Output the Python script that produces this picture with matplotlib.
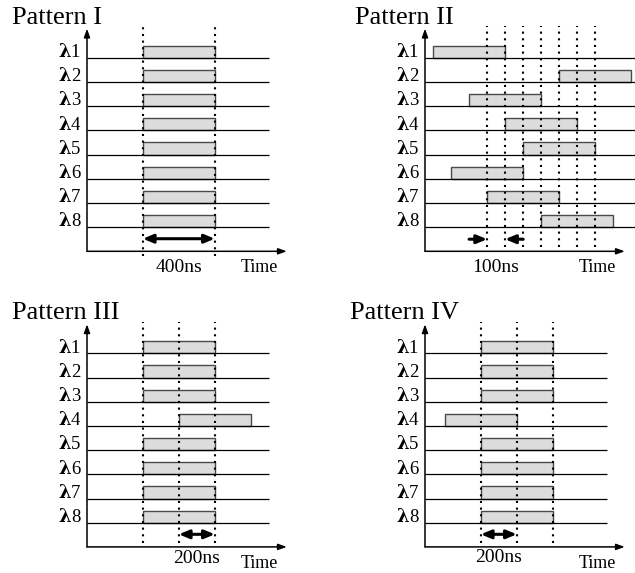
"""Timing diagrams of the four wavelength patterns."""

import matplotlib

matplotlib.use("Agg")
import matplotlib.pyplot as plt
from matplotlib.patches import Rectangle

W_PX, H_PX = 635, 573
PX_PER_NS = 0.18
PX_PER_ROW = 24.2

WAVELENGTHS = ["1", "2", "3", "4", "5", "6", "7", "8"]
PULSE_NS = 400

# pulse start times (ns, measured from the vertical axis)
pattern_i_starts = [310, 310, 310, 310, 310, 310, 310, 310]
pattern_ii_starts = [45, 745, 245, 445, 545, 145, 345, 645]
pattern_iii_starts = [310, 310, 310, 510, 310, 310, 310, 310]
pattern_iv_starts = [310, 310, 310, 110, 310, 310, 310, 310]

# dotted guide lines (ns)
pattern_i_guides = [310, 710]
pattern_ii_guides = [345, 445, 545, 645, 745, 845, 945]
pattern_iii_guides = [310, 510, 710]
pattern_iv_guides = [310, 510, 710]

# interval labels
pattern_i_span = (310, 710, "400ns")
pattern_iii_span = (510, 710, "200ns")
pattern_iv_span = (310, 510, "200ns")
pattern_ii_gap = (345, 445, "100ns")

FONT = "Liberation Serif"
FILL = "#dcdcdc"
EDGE = "#4a4a4a"


def make_axes(fig, origin_x, line1_y):
    xmin, xmax = -450, 1250
    ymin, ymax = -1.3, 10.4
    left = origin_x + PX_PER_NS * xmin
    right = origin_x + PX_PER_NS * xmax
    top = line1_y + (8 - ymax) * PX_PER_ROW
    bottom = line1_y + (8 - ymin) * PX_PER_ROW
    ax = fig.add_axes(
        [left / W_PX, 1 - bottom / H_PX, (right - left) / W_PX, (bottom - top) / H_PX]
    )
    ax.set_xlim(xmin, xmax)
    ax.set_ylim(ymin, ymax)
    ax.axis("off")
    return ax


def draw_pattern(ax, title, title_x, starts, guides, guide_bottom, line_end, time_y):
    n = len(WAVELENGTHS)
    for i, (num, start) in enumerate(zip(WAVELENGTHS, starts)):
        y = n - i
        ax.plot([0, line_end], [y, y], color="black", lw=0.9, solid_capstyle="butt")
        ax.add_patch(
            Rectangle((start, y), PULSE_NS, 0.5, facecolor=FILL, edgecolor=EDGE, lw=1.0)
        )
        # lambda drawn in a wider serif face, index in the Times-like face
        ax.text(-38, y + 0.03, num, ha="right", va="baseline", fontsize=13.5,
                family=FONT)
        ax.text(-90, y + 0.03, "λ", ha="right", va="baseline", fontsize=13,
                family="DejaVu Serif", fontweight="bold")

    for g in guides:
        ax.plot([g, g], [guide_bottom, 9.31], color="black", lw=1.5,
                linestyle=(0, (1, 2.2)), zorder=3)

    # axes with arrow heads
    ax.annotate("", xy=(1110, 0), xytext=(0, 0),
                arrowprops=dict(arrowstyle="-|>,head_length=0.5,head_width=0.18",
                                color="black", lw=1.1, shrinkA=0, shrinkB=0))
    ax.annotate("", xy=(0, 9.2), xytext=(0, 0),
                arrowprops=dict(arrowstyle="-|>,head_length=0.5,head_width=0.18",
                                color="black", lw=1.1, shrinkA=0, shrinkB=0))

    ax.text(title_x, 9.4, title, ha="left", va="baseline", fontsize=19, family=FONT)
    ax.text(958, time_y, "Time", ha="center", va="baseline", fontsize=13, family=FONT)


def draw_span(ax, span, label_y):
    a, b, label = span
    ax.annotate("", xy=(a, 0.52), xytext=(b, 0.52),
                arrowprops=dict(arrowstyle="<|-|>,head_length=0.6,head_width=0.25",
                                color="black", lw=2.2, shrinkA=0, shrinkB=0))
    ax.text((a + b) / 2, label_y, label, ha="center", va="baseline", fontsize=14,
            family=FONT)


def main():
    fig = plt.figure(figsize=(W_PX / 100, H_PX / 100), dpi=100)

    ax1 = make_axes(fig, 87, 57.7)
    draw_pattern(ax1, "Pattern I", -418, pattern_i_starts, pattern_i_guides, -0.2,
                 1010, -0.86)
    draw_span(ax1, pattern_i_span, -0.84)

    ax2 = make_axes(fig, 425, 57.7)
    draw_pattern(ax2, "Pattern II", -389, pattern_ii_starts, pattern_ii_guides, 0.18,
                 1250, -0.84)
    a, b, label = pattern_ii_gap
    for tail, head in [(a - 100, a), (b + 100, b)]:
        ax2.annotate("", xy=(head, 0.5), xytext=(tail, 0.5),
                     arrowprops=dict(arrowstyle="-|>,head_length=0.6,head_width=0.25",
                                     color="black", lw=2.2, shrinkA=0, shrinkB=0))
    ax2.text((a + b) / 2, -0.84, label, ha="center", va="baseline", fontsize=14,
             family=FONT)

    ax3 = make_axes(fig, 87, 353.3)
    draw_pattern(ax3, "Pattern III", -418, pattern_iii_starts, pattern_iii_guides, 0.15,
                 1010, -0.86)
    draw_span(ax3, pattern_iii_span, -0.68)

    ax4 = make_axes(fig, 425, 353.3)
    draw_pattern(ax4, "Pattern IV", -417, pattern_iv_starts, pattern_iv_guides, 0.15,
                 1010, -0.86)
    draw_span(ax4, pattern_iv_span, -0.62)

    fig.savefig("out.png", dpi=100)


if __name__ == "__main__":
    main()
